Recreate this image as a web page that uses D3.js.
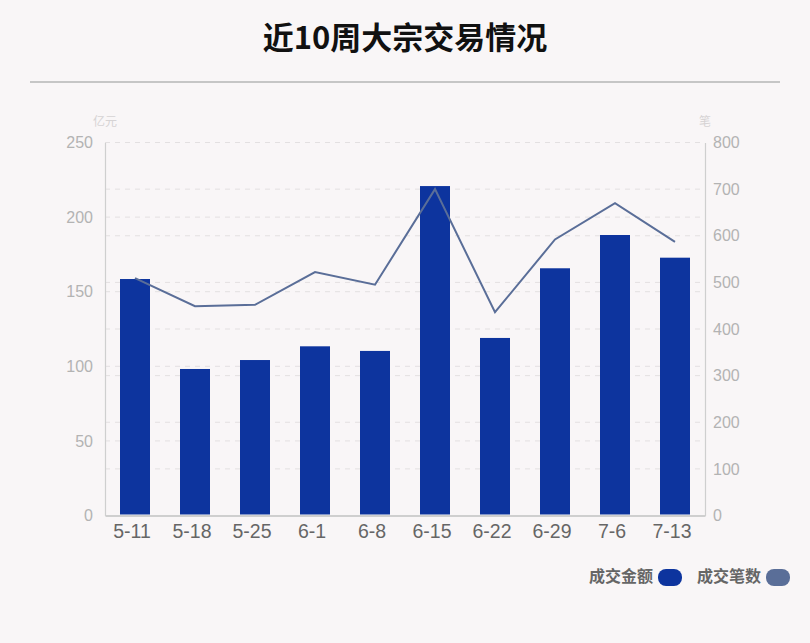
<!DOCTYPE html>
<html><head><meta charset="utf-8">
<script src="https://cdn.jsdelivr.net/npm/d3@7"></script>
<style>
html,body{margin:0;padding:0;background:#f9f6f7;}
svg{display:block;}
</style></head>
<body>
<svg id="chart" width="810" height="643"></svg>
<script>
const categories = ["5-11","5-18","5-25","6-1","6-8","6-15","6-22","6-29","7-6","7-13"];
const amountValues = [158.5, 98.2, 104.2, 113.4, 110.3, 220.8, 119.0, 165.7, 188.0, 172.8];
const countValues = [509, 449, 452, 522, 495, 700, 436, 592, 670, 587];
const leftTicks = [0, 50, 100, 150, 200, 250];
const rightTicks = [0, 100, 200, 300, 400, 500, 600, 700, 800];
const seriesNames = ["成交金额", "成交笔数"];
const seriesColors = ["#0d349e", "#5a6e98"];

(function(){
const svg = d3.select("#chart");
const fontCJK = "'Noto Sans CJK SC','Noto Sans',sans-serif";
const fontNum = "'Liberation Sans',Arial,sans-serif";

svg.append("rect").attr("width",810).attr("height",643).attr("fill","#f9f6f7");

svg.append("text").attr("x",405).attr("y",49).attr("text-anchor","middle")
  .attr("font-family",fontCJK).attr("font-weight","bold").attr("font-size",31)
  .attr("fill","#111").text("近10周大宗交易情况");
svg.append("line").attr("x1",30).attr("x2",780).attr("y1",82).attr("y2",82)
  .attr("stroke","#c6c6c6").attr("stroke-width",2);

const pL = 105, pR = 705, pT = 142.5, pB = 515.5;
const x = d3.scaleBand().domain(categories).range([pL, pR]).paddingInner(0.5).paddingOuter(0.25);
const yL = d3.scaleLinear().domain([0, 250]).range([pB, pT]);
const yR = d3.scaleLinear().domain([0, 800]).range([pB, pT]);

const grid = svg.append("g");
leftTicks.slice(1).forEach(t => grid.append("line").attr("x1",pL).attr("x2",pR)
  .attr("y1",yL(t)).attr("y2",yL(t)).attr("stroke","#e3e0e1").attr("stroke-dasharray","5,5"));
rightTicks.slice(1).forEach(t => grid.append("line").attr("x1",pL).attr("x2",pR)
  .attr("y1",yR(t)).attr("y2",yR(t)).attr("stroke","#e3e0e1").attr("stroke-dasharray","5,5"));

const axL = svg.append("g").attr("transform",`translate(${pL},0)`)
  .call(d3.axisLeft(yL).tickValues(leftTicks).tickSize(0).tickPadding(12));
const axR = svg.append("g").attr("transform",`translate(${pR},0)`)
  .call(d3.axisRight(yR).tickValues(rightTicks).tickSize(0).tickPadding(8));
[axL, axR].forEach(a => {
  a.select(".domain").attr("stroke","#cfcfcf").attr("stroke-width",1.2);
  a.selectAll("text").attr("font-family",fontNum).attr("font-size",16).attr("fill","#b3b3b3");
});
const axB = svg.append("g").attr("transform",`translate(0,${pB})`)
  .call(d3.axisBottom(x).tickSize(0).tickPadding(9));
axB.select(".domain").attr("stroke","#cfcfcf").attr("stroke-width",2);
axB.selectAll("text").attr("font-family",fontNum).attr("font-size",19.5).attr("fill","#666").attr("dx",-3);

svg.append("text").attr("x",105).attr("y",126).attr("text-anchor","middle")
  .attr("font-family",fontCJK).attr("font-size",12).attr("fill","#d6d3d4").text("亿元");
svg.append("text").attr("x",705).attr("y",126).attr("text-anchor","middle")
  .attr("font-family",fontCJK).attr("font-size",12).attr("fill","#d6d3d4").text("笔");

svg.append("g").selectAll("rect").data(amountValues).join("rect")
  .attr("x",(d,i)=>x(categories[i])).attr("width",x.bandwidth())
  .attr("y",d=>yL(d)).attr("height",d=>pB-1-yL(d)).attr("fill",seriesColors[0]);

const line = d3.line().x((d,i)=>x(categories[i])+x.bandwidth()/2).y(d=>yR(d));
svg.append("path").datum(countValues).attr("d",line).attr("fill","none")
  .attr("stroke",seriesColors[1]).attr("stroke-width",2);

const legend = svg.append("g");
const legItems = [{x:653, rx:658}, {x:761, rx:766}];
seriesNames.forEach((n,i)=>{
  legend.append("text").attr("x",legItems[i].x).attr("y",582).attr("text-anchor","end")
    .attr("font-family",fontCJK).attr("font-weight","bold").attr("font-size",16).attr("fill","#666").text(n);
  legend.append("rect").attr("x",legItems[i].rx).attr("y",569).attr("width",24).attr("height",17)
    .attr("rx",8).attr("fill",seriesColors[i]);
});
})();
</script>
</body></html>
